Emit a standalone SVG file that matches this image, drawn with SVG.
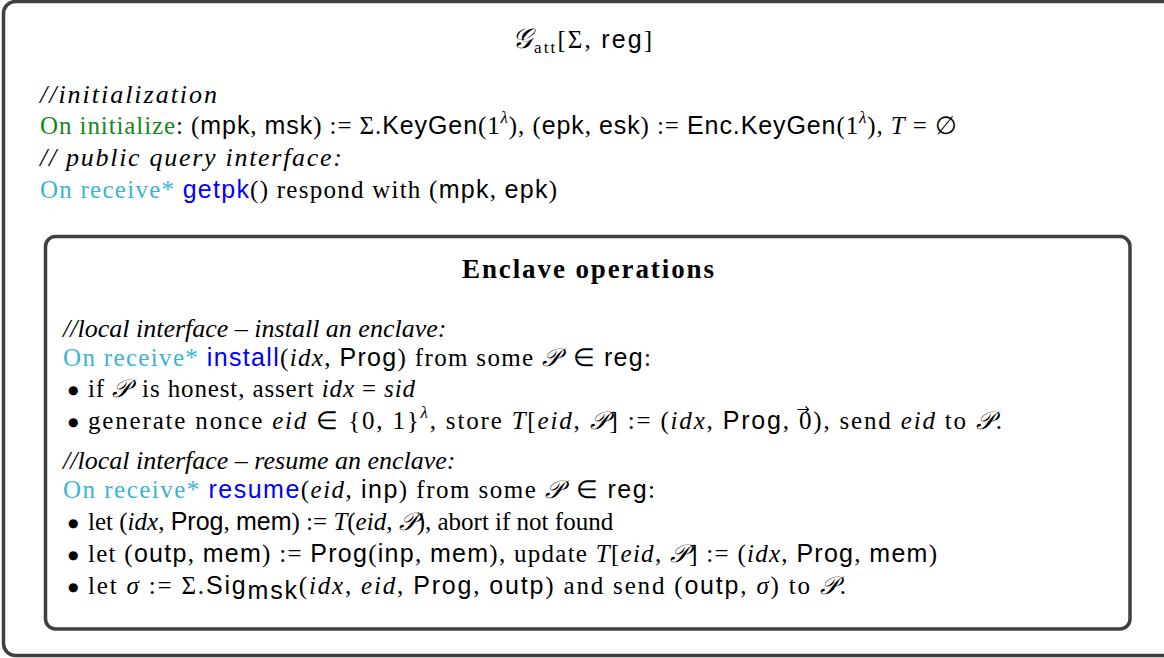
<svg xmlns="http://www.w3.org/2000/svg" width="1164" height="658" viewBox="0 0 1164 658">
<style>
.box{fill:#fff;stroke:#404040;stroke-width:3.5}
text{font-family:"Liberation Serif",serif;font-size:25px;fill:#000}
.sf{font-family:"Liberation Sans",sans-serif;font-size:25px}
.it{font-style:italic}
.cm{font-style:italic;font-size:26px}
.cal{font-family:"DejaVu Serif","Noto Sans",serif;font-style:italic}
.grn{fill:#15871a}
.cyn{fill:#3ab4d4}
.blu{fill:#0000ff}
.sup{font-size:17px}
.bold{font-weight:bold;font-size:27px}
.bul{font-family:"DejaVu Sans",sans-serif;font-size:12px}
.vec{fill:none;stroke:#000;stroke-width:1.2}
</style>
<rect width="1164" height="658" fill="#fff"/>
<g id="outer">
<rect class="box" x="3.5" y="1.5" width="1185" height="654" rx="12"/>
<text x="512" y="48" textLength="140" lengthAdjust="spacing" font-size="26"><tspan class="cal" font-size="28">𝒢</tspan><tspan font-size="17" dy="5">att</tspan><tspan dy="-5">[Σ, </tspan><tspan class="sf">reg</tspan>]</text>
<text x="40" y="103" class="cm" textLength="177" lengthAdjust="spacing">//initialization</text>
<text x="40" y="134" textLength="917" lengthAdjust="spacing"><tspan class="grn">On initialize</tspan>: (<tspan class="sf">mpk</tspan>, <tspan class="sf">msk</tspan>) := Σ.<tspan class="sf">KeyGen</tspan>(1<tspan class="sup it" dy="-11">λ</tspan><tspan dy="11">), (</tspan><tspan class="sf">epk</tspan>, <tspan class="sf">esk</tspan>) := <tspan class="sf">Enc.KeyGen</tspan>(1<tspan class="sup it" dy="-11">λ</tspan><tspan dy="11">), </tspan><tspan class="it">T</tspan> = ∅</text>
<text x="40" y="166" class="cm" textLength="302" lengthAdjust="spacing">// public query interface:</text>
<text x="40" y="198" textLength="517" lengthAdjust="spacing"><tspan class="cyn">On receive*</tspan> <tspan class="sf blu">getpk</tspan>() respond with (<tspan class="sf">mpk</tspan>, <tspan class="sf">epk</tspan>)</text>
</g>
<g id="enclave">
<rect class="box" x="45.5" y="236.5" width="1084.5" height="392.5" rx="10"/>
<text x="462" y="278" class="bold" textLength="252" lengthAdjust="spacing">Enclave operations</text>
<text x="63" y="337" class="cm">//local interface – install an enclave:</text>
<text x="63" y="366" textLength="588" lengthAdjust="spacing"><tspan class="cyn">On receive*</tspan> <tspan class="sf blu">install</tspan>(<tspan class="it">idx</tspan>, <tspan class="sf">Prog</tspan>) from some <tspan class="cal">𝒫</tspan><tspan dx="4"> ∈ </tspan><tspan class="sf">reg</tspan>:</text>
<text x="68" y="394" class="bul">●</text>
<text x="88" y="397" textLength="327" lengthAdjust="spacing">if <tspan class="cal">𝒫</tspan><tspan dx="4"> is honest, assert </tspan><tspan class="it">idx</tspan> = <tspan class="it">sid</tspan></text>
<text x="68" y="426" class="bul">●</text>
<text x="88" y="429" textLength="914" lengthAdjust="spacing">generate nonce <tspan class="it">eid</tspan> ∈ {0, 1}<tspan class="sup it" dy="-11">λ</tspan><tspan dy="11">, store </tspan><tspan class="it">T</tspan>[<tspan class="it">eid</tspan>, <tspan class="cal">𝒫</tspan>] := (<tspan class="it">idx</tspan>, <tspan class="sf">Prog</tspan>, 0), send <tspan class="it">eid</tspan> to <tspan class="cal">𝒫</tspan>.</text>
<path class="vec" d="M797.5,409.5 H808.5 M805.5,406.5 L808.5,409.5 L805.5,412.5"/>
<text x="63" y="469" class="cm">//local interface – resume an enclave:</text>
<text x="63" y="498" textLength="592" lengthAdjust="spacing"><tspan class="cyn">On receive*</tspan> <tspan class="sf blu">resume</tspan>(<tspan class="it">eid</tspan>, <tspan class="sf">inp</tspan>) from some <tspan class="cal">𝒫</tspan><tspan dx="4"> ∈ </tspan><tspan class="sf">reg</tspan>:</text>
<text x="68" y="527" class="bul">●</text>
<text x="88" y="530">let (<tspan class="it">idx</tspan>, <tspan class="sf">Prog</tspan>, <tspan class="sf">mem</tspan>) := <tspan class="it">T</tspan>(<tspan class="it">eid</tspan>, <tspan class="cal">𝒫</tspan>), abort if not found</text>
<text x="68" y="559" class="bul">●</text>
<text x="88" y="562" textLength="849" lengthAdjust="spacing">let (<tspan class="sf">outp</tspan>, <tspan class="sf">mem</tspan>) := <tspan class="sf">Prog</tspan>(<tspan class="sf">inp</tspan>, <tspan class="sf">mem</tspan>), update <tspan class="it">T</tspan>[<tspan class="it">eid</tspan>, <tspan class="cal">𝒫</tspan>] := (<tspan class="it">idx</tspan>, <tspan class="sf">Prog</tspan>, <tspan class="sf">mem</tspan>)</text>
<text x="68" y="591" class="bul">●</text>
<text x="88" y="594" textLength="758" lengthAdjust="spacing">let <tspan class="it">σ</tspan> := Σ.<tspan class="sf">Sig</tspan><tspan class="sf" font-size="15" dy="5">msk</tspan><tspan dy="-5">(</tspan><tspan class="it">idx</tspan>, <tspan class="it">eid</tspan>, <tspan class="sf">Prog</tspan>, <tspan class="sf">outp</tspan>) and send (<tspan class="sf">outp</tspan>, <tspan class="it">σ</tspan>) to <tspan class="cal">𝒫</tspan>.</text>
</g>
<g id="connectors"/>
</svg>
